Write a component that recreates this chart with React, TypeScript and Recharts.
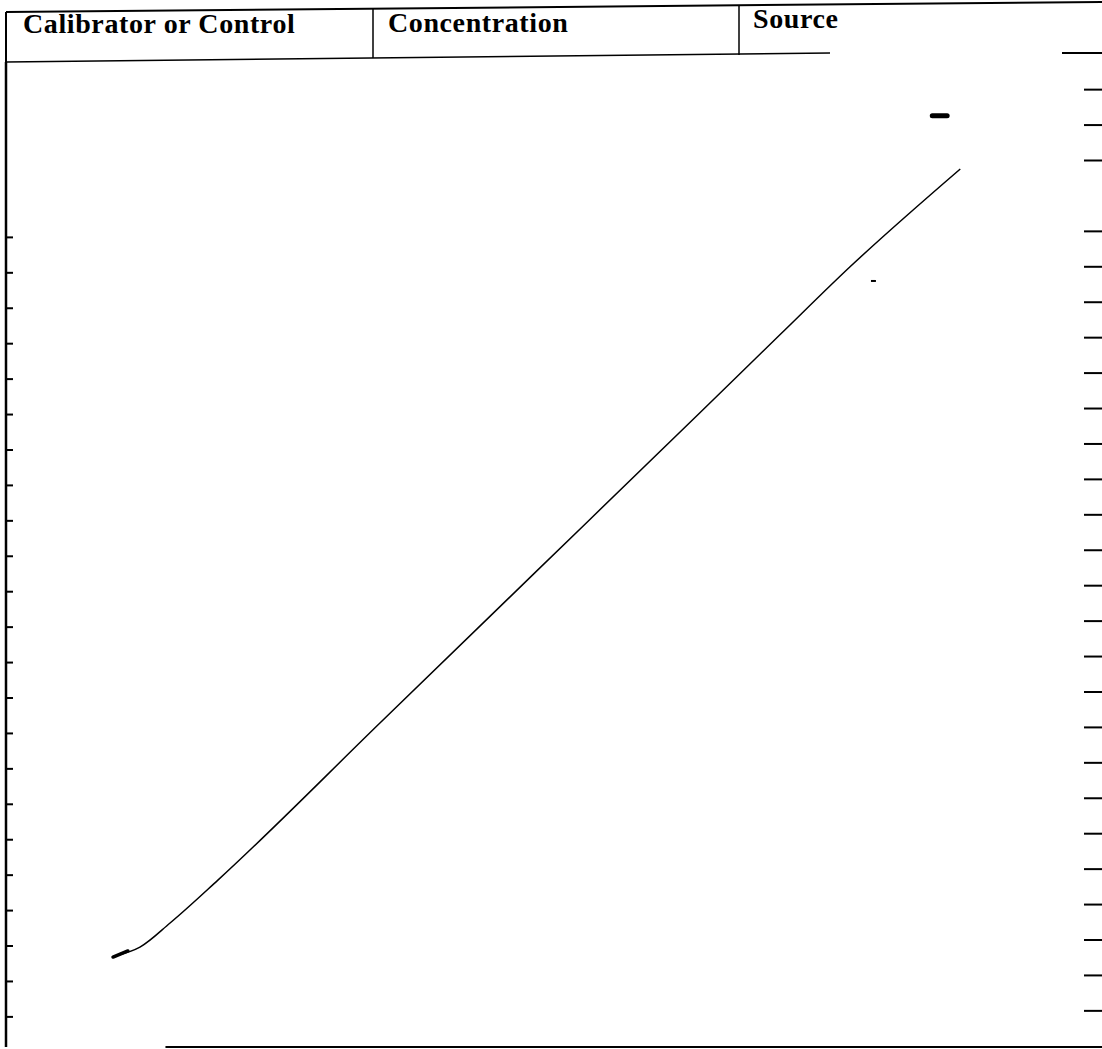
import React from 'react';
import { ComposedChart, Line, XAxis, YAxis, ReferenceLine } from 'recharts';

// Header cells of the form
const headerLabels = ['Calibrator or Control', 'Concentration', 'Source'];

// Hand-drawn calibration curve (grid units)
const curveX = [3.08, 3.78, 4.63, 5.98, 10.56, 14.9, 19.59, 21.84, 23.82, 26.93];
const curveY = [2.57, 2.82, 3.5, 4.71, 9.15, 13.36, 17.91, 20.1, 22.02, 24.78];

// Pen-start hook at the lower end of the curve
const hookX = [3.02, 3.44];
const hookY = [2.54, 2.71];

// Stray pen mark near the top
const blobX = [26.14, 26.56];
const blobY = [26.28, 26.28];

// Tiny mark below the curve end
const dotX = [24.41, 24.55];
const dotY = [21.62, 21.62];

// Grid ticks on left edge and dashes on right edge
const leftTicks = [
  0.85, 1.85, 2.85, 3.85, 4.85, 5.85, 6.85, 7.85, 8.85, 9.85, 10.85, 11.85,
  12.85, 13.85, 14.85, 15.85, 16.85, 17.85, 18.85, 19.85, 20.85, 21.85, 22.85,
];
const rightTicks = [
  1.02, 2.02, 3.02, 4.02, 5.02, 6.02, 7.02, 8.02, 9.02, 10.02, 11.02, 12.02,
  13.02, 14.02, 15.02, 16.02, 17.02, 18.02, 19.02, 20.02, 21.02, 22.02, 23.02,
  25.02, 26.02, 27.02,
];

const X_MAX = 30.93;
const Y_MAX = 27.8;
const bottomStart = 4.5;

const toPts = (xs: number[], ys: number[]) => xs.map((x, i) => ({ x, y: ys[i] }));

const curveData = toPts(curveX, curveY);
const hookData = toPts(hookX, hookY);
const blobData = toPts(blobX, blobY);
const dotData = toPts(dotX, dotY);

const W = 1102;
const H = 1049;

function Header() {
  const font = {
    fontFamily: '"Liberation Serif", "Times New Roman", serif',
    fontWeight: 700,
    fontSize: 28,
    letterSpacing: 0.6,
    fill: '#000',
  } as const;
  return (
    <svg
      width={W}
      height={70}
      style={{ position: 'absolute', left: 0, top: 0, pointerEvents: 'none' }}
    >
      <line x1={6} y1={12} x2={1102} y2={2} stroke="#000" strokeWidth={2} />
      <line x1={6} y1={12} x2={6} y2={63} stroke="#000" strokeWidth={2} />
      <line x1={373} y1={9} x2={373} y2={58} stroke="#000" strokeWidth={1.5} />
      <line x1={739} y1={6} x2={739} y2={55} stroke="#000" strokeWidth={1.5} />
      <line x1={6} y1={62} x2={830} y2={53} stroke="#000" strokeWidth={1.5} />
      <line x1={1062} y1={53} x2={1102} y2={53} stroke="#000" strokeWidth={2} />
      <text x={23} y={33} {...font}>{headerLabels[0]}</text>
      <text x={388} y={32} {...font}>{headerLabels[1]}</text>
      <text x={753} y={28} {...font}>{headerLabels[2]}</text>
    </svg>
  );
}

export default function App() {
  return (
    <div style={{ position: 'absolute', left: 0, top: 0, width: W, height: H, background: '#fff' }}>
      <ComposedChart
        width={W}
        height={H}
        margin={{ top: 62, right: 0, bottom: 2, left: 6 }}
      >
        <XAxis
          type="number"
          dataKey="x"
          domain={[0, X_MAX]}
          allowDataOverflow
          hide
        />
        <YAxis
          yAxisId="left"
          type="number"
          dataKey="y"
          orientation="left"
          domain={[0, Y_MAX]}
          allowDataOverflow
          width={1}
          mirror
          ticks={leftTicks}
          interval={0}
          tickSize={7}
          tickFormatter={() => ''}
          axisLine={{ stroke: '#000', strokeWidth: 2.5 }}
          tickLine={{ stroke: '#000', strokeWidth: 2 }}
        />
        <YAxis
          yAxisId="right"
          type="number"
          orientation="right"
          domain={[0, Y_MAX]}
          allowDataOverflow
          width={1}
          mirror
          ticks={rightTicks}
          interval={0}
          tickSize={18}
          tickFormatter={() => ''}
          axisLine={false}
          tickLine={{ stroke: '#000', strokeWidth: 2 }}
        />
        <ReferenceLine
          yAxisId="left"
          segment={[
            { x: bottomStart, y: 0 },
            { x: X_MAX, y: 0 },
          ]}
          stroke="#000"
          strokeWidth={2}
          ifOverflow="visible"
        />
        <Line
          yAxisId="left"
          data={curveData}
          dataKey="y"
          type="monotone"
          stroke="#000"
          strokeWidth={1.5}
          dot={false}
          isAnimationActive={false}
        />
        <Line
          yAxisId="left"
          data={hookData}
          dataKey="y"
          type="linear"
          stroke="#000"
          strokeWidth={3.5}
          strokeLinecap="round"
          dot={false}
          isAnimationActive={false}
        />
        <Line
          yAxisId="left"
          data={blobData}
          dataKey="y"
          type="linear"
          stroke="#000"
          strokeWidth={5}
          strokeLinecap="round"
          dot={false}
          isAnimationActive={false}
        />
        <Line
          yAxisId="left"
          data={dotData}
          dataKey="y"
          type="linear"
          stroke="#000"
          strokeWidth={2}
          dot={false}
          isAnimationActive={false}
        />
      </ComposedChart>
      <Header />
    </div>
  );
}
